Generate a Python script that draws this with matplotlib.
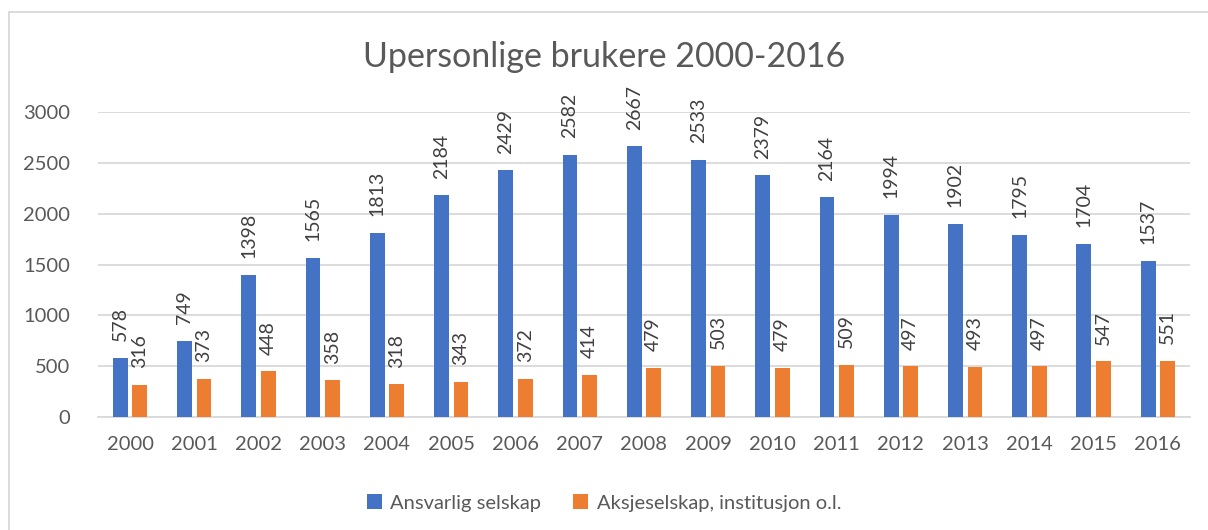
import numpy as np
import matplotlib
import matplotlib.pyplot as plt
from matplotlib.patches import Rectangle

plt.rcParams['font.family'] = ['Lato', 'DejaVu Sans']

years = ['2000', '2001', '2002', '2003', '2004', '2005', '2006', '2007', '2008',
         '2009', '2010', '2011', '2012', '2013', '2014', '2015', '2016']
ansvarlig = [578, 749, 1398, 1565, 1813, 2184, 2429, 2582, 2667,
             2533, 2379, 2164, 1994, 1902, 1795, 1704, 1537]
aksje = [316, 373, 448, 358, 318, 343, 372, 414, 479,
         503, 479, 509, 497, 493, 497, 547, 551]
yticks = [0, 500, 1000, 1500, 2000, 2500, 3000]

blue = '#4472C4'
orange = '#ED7D31'
textc = '#595959'
gridc = '#D9D9D9'

fig = plt.figure(figsize=(12.08, 5.30), dpi=100)
ax = fig.add_axes([97.9 / 1208, 1 - 416.7 / 530, (1190 - 97.9) / 1208, (416.7 - 112.5) / 530])

x = np.arange(len(years))
w = 0.23
off = 0.152

b1 = ax.bar(x - off, ansvarlig, w, color=blue, label='Ansvarlig selskap', zorder=3)
b2 = ax.bar(x + off, aksje, w, color=orange, label='Aksjeselskap, institusjon o.l.', zorder=3)

for bars, vals in [(b1, ansvarlig), (b2, aksje)]:
    for r, v in zip(bars, vals):
        ax.annotate(str(v), (r.get_x() + r.get_width() / 2, v), xytext=(0, 12),
                    textcoords='offset points', rotation=90, ha='center', va='bottom',
                    fontsize=14, color='#404040')

ax.set_xlim(-0.5, len(years) - 0.5)
ax.set_ylim(0, 3000)
ax.set_yticks(yticks)
ax.set_xticks(x)
ax.set_xticklabels(years)
ax.tick_params(axis='both', length=0, labelsize=14.5, labelcolor=textc)
ax.tick_params(axis='x', pad=14)
ax.tick_params(axis='y', pad=20)
ax.grid(axis='y', color=gridc, linewidth=1.3, zorder=0)
for s in ['top', 'right', 'left']:
    ax.spines[s].set_visible(False)
ax.spines['bottom'].set_color(gridc)
ax.spines['bottom'].set_linewidth(1.3)

fig.text(0.5, 1 - 57 / 530, 'Upersonlige brukere 2000-2016', ha='center', va='center',
         fontsize=24.5, color=textc)

fig.legend(handles=[b1, b2], loc='center', bbox_to_anchor=(0.5, 1 - 503 / 530),
           ncol=2, frameon=False, fontsize=14.5, labelcolor=textc,
           handlelength=0.75, handleheight=0.75, handletextpad=0.4, columnspacing=1.6)

fig.patches.append(Rectangle((9 / 1208, -0.1), 1.2, (530 - 12) / 530 + 0.1,
                             transform=fig.transFigure, fill=False,
                             edgecolor='#D9D9D9', linewidth=1.3))

plt.savefig('out.png', dpi=100)
